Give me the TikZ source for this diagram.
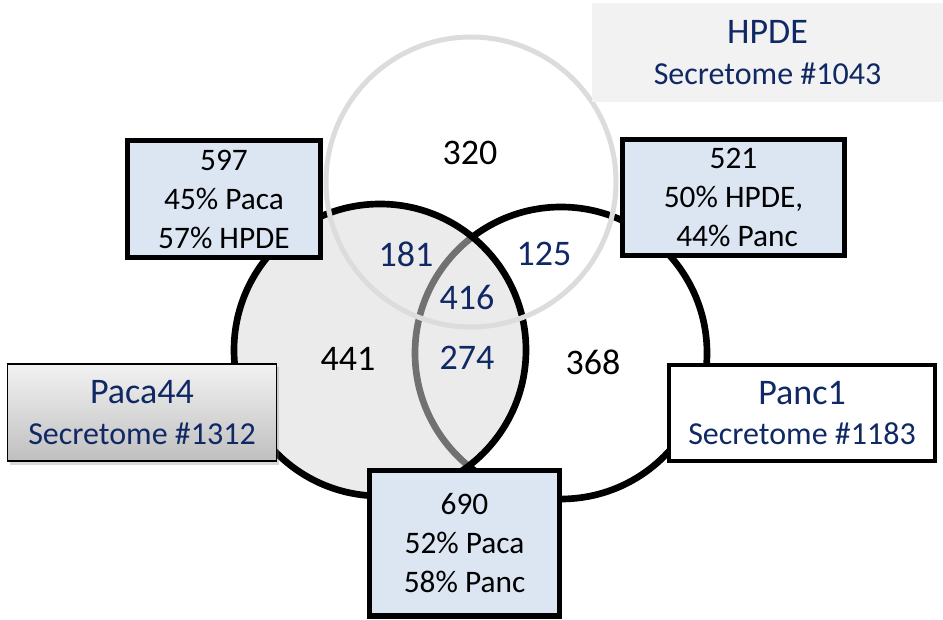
\documentclass[tikz,border=0pt]{standalone}
\usepackage{fontspec}
\setmainfont{Carlito}
\usetikzlibrary{shadows}
\definecolor{navytext}{RGB}{16,40,100}
\definecolor{boxblue}{RGB}{220,230,242}
\definecolor{hpdegray}{RGB}{242,242,242}
\definecolor{ringgray}{RGB}{220,220,220}
\newcommand\vennnum{\fontsize{27}{32}\selectfont}
\newcommand\vennline{\fontsize{23.5}{29.25}\selectfont}
\newcommand\vennhead{\fontsize{27}{30}\selectfont}
\newcommand\vennsub{\fontsize{24}{30.5}\selectfont}

\begin{document}
\begin{tikzpicture}[x=0.75pt, y=-0.75pt,
		ring/.style={line width=5pt},
		countbox/.style={draw=black, line width=4pt, fill=boxblue, inner sep=0pt, outer sep=0pt, align=center, font=\vennline},
		setbox/.style={inner sep=0pt, outer sep=0pt, align=center, font=\vennsub, text=navytext}]
			%%%%% START %%%%%
			\useasboundingbox (0,0) rectangle (943,620);
			
			% the three sets
			\draw[ring, fill=white] (561,353) circle (146);
			\draw[ring, fill=black!15, fill opacity=0.52] (380,350) circle (146);
			\draw[line width=3.75pt, color=ringgray] (471,182) circle (145);
			
			% region counts
			\node[font=\vennnum] (onlyhpde) at (470,153) {320};
			\node[font=\vennnum] (onlypaca) at (348,359) {441};
			\node[font=\vennnum] (onlypanc) at (593,362) {368};
			\node[font=\vennnum, text=navytext] (pacahpde) at (406,254) {181};
			\node[font=\vennnum, text=navytext] (panchpde) at (544,254) {125};
			\node[font=\vennnum, text=navytext] (allthree) at (467,297) {416};
			\node[font=\vennnum, text=navytext] (pacapanc) at (467,358) {274};
			
			% overlap boxes
			\node[countbox, minimum width=144.5pt, minimum height=87.5pt] (boxpacahpde) at (224,199) {597\\45\% Paca\\57\% HPDE};
			\node[countbox, minimum width=166.25pt, minimum height=86.75pt] (boxpanchpde) at (733.5,197.5) {521\\50\% HPDE,\\\ 44\% Panc};
			\node[countbox, minimum width=142.25pt, minimum height=109.25pt] (boxpacapanc) at (464.5,543) {690\\52\% Paca\\58\% Panc};
			
			% set labels
			\node[setbox, fill=hpdegray, minimum width=263.25pt, minimum height=74.25pt] (hpde) at (767.5,52.5) {{\vennhead HPDE}\\Secretome \#1043};
			\node[setbox, draw=black, line width=1.1pt, top color=black!5, bottom color=black!25, drop shadow={shadow xshift=2pt, shadow yshift=-2.5pt, opacity=0.3}, minimum width=201.4pt, minimum height=73pt] (paca) at (142,412.5) {{\vennhead Paca44}\\Secretome \#1312};
			\node[setbox, draw=black, line width=3pt, fill=white, minimum width=199.5pt, minimum height=72pt] (panc) at (802,413) {{\vennhead Panc1}\\Secretome \#1183};
			
			%%%%% END %%%%%
		\end{tikzpicture}
\end{document}
